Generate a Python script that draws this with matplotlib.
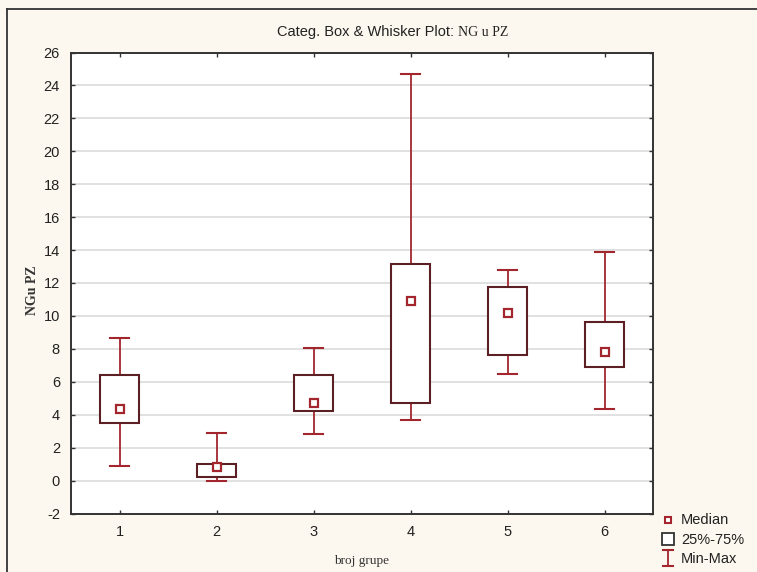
import matplotlib
matplotlib.use("Agg")
import matplotlib.pyplot as plt
from matplotlib.lines import Line2D
from matplotlib.patches import Rectangle

plt.rcParams["axes.unicode_minus"] = False

groups = [1, 2, 3, 4, 5, 6]
mins = [0.9, 0.0, 2.8, 3.65, 6.45, 4.35]
q1 = [3.47, 0.24, 4.24, 4.73, 7.63, 6.88]
medians = [4.32, 0.81, 4.73, 10.93, 10.16, 7.83]
q3 = [6.44, 0.98, 6.44, 13.15, 11.78, 9.61]
maxs = [8.64, 2.9, 8.07, 24.71, 12.79, 13.88]
yticks = list(range(-2, 27, 2))

BG = "#fdf8ef"
BOX_C = "#5c1f24"
WH_C = "#a3262e"

W, H = 757, 572
fig = plt.figure(figsize=(W / 100, H / 100), dpi=100, facecolor=BG)
ax = fig.add_axes([71 / W, 1 - 513.5 / H, (653 - 71) / W, (513.5 - 52.5) / H])
ax.set_facecolor("white")

bw = 0.405
cw = 0.196
for g, lo, a, m, b, hi in zip(groups, mins, q1, medians, q3, maxs):
    ax.plot([g, g], [b, hi], color=WH_C, lw=1.3, zorder=3)
    ax.plot([g, g], [lo, a], color=WH_C, lw=1.3, zorder=3)
    ax.plot([g - cw / 2, g + cw / 2], [hi, hi], color=WH_C, lw=1.5, zorder=3)
    ax.plot([g - cw / 2, g + cw / 2], [lo, lo], color=WH_C, lw=1.5, zorder=3)
    ax.add_patch(Rectangle((g - bw / 2, a), bw, b - a, facecolor="white",
                           edgecolor=BOX_C, lw=1.5, zorder=4))
    ax.plot([g], [m], marker="s", ms=5.5, mfc="white", mec=WH_C, mew=1.6,
            zorder=5, ls="none")

ax.set_xlim(0.5, 6.5)
ax.set_ylim(-2, 26)
ax.set_yticks(yticks)
ax.set_xticks(groups)
ax.grid(axis="y", color="#dcdcdc", lw=1.2, zorder=0)
ax.set_axisbelow(True)
for s in ax.spines.values():
    s.set_color("#333333")
    s.set_linewidth(1.4)
ax.tick_params(direction="in", length=3, width=1, color="#333333",
               top=True, right=True, labelsize=10.5, pad=8)
for lab in ax.get_xticklabels() + ax.get_yticklabels():
    lab.set_family(["Liberation Sans", "DejaVu Sans"])
    lab.set_color("#222222")

ax.set_ylabel("NGu PZ", family=["Liberation Serif", "DejaVu Serif"],
              fontsize=10, fontweight="bold", color="#333333")
ax.yaxis.set_label_coords(-0.055, 0.485)
ax.set_xlabel("broj grupe", family=["Liberation Serif", "DejaVu Serif"],
              fontsize=9.5, labelpad=12, color="#333333")

fig.text(458 / W, 1 - 32 / H, "Categ. Box & Whisker Plot: ", ha="right",
         va="center", fontsize=10.5, family=["Liberation Sans Narrow", "Liberation Sans", "DejaVu Sans"],
         color="#222222")
fig.text(458 / W, 1 - 32 / H, "NG u PZ", ha="left", va="center",
         fontsize=10, family=["Liberation Serif", "DejaVu Serif"], color="#222222")

# frame border
fig.add_artist(Line2D([7 / W, 7 / W], [0, 1 - 9 / H], transform=fig.transFigure,
                      color="#333333", lw=1.3))
fig.add_artist(Line2D([7 / W, 1], [1 - 9 / H, 1 - 9 / H], transform=fig.transFigure,
                      color="#333333", lw=1.3))

# legend
tf = fig.transFigure
fig.add_artist(Line2D([668 / W], [1 - 520 / H], transform=tf, marker="s", ms=5,
                      mfc="white", mec=WH_C, mew=1.5, ls="none"))
fig.add_artist(Rectangle((662 / W, 1 - 545 / H), 11.5 / W, 12 / H, transform=tf,
                         facecolor="white", edgecolor="#333333", lw=1.3))
fig.add_artist(Line2D([668 / W, 668 / W], [1 - 550 / H, 1 - 566 / H], transform=tf,
                      color=WH_C, lw=1.3))
fig.add_artist(Line2D([663 / W, 673 / W], [1 - 550 / H, 1 - 550 / H], transform=tf,
                      color=WH_C, lw=1.5))
fig.add_artist(Line2D([663 / W, 673 / W], [1 - 566 / H, 1 - 566 / H], transform=tf,
                      color=WH_C, lw=1.5))
for ty, t in [(520, "Median"), (540, "25%-75%"), (559, "Min-Max")]:
    fig.text(681 / W, 1 - ty / H, t, ha="left", va="center", fontsize=10.5,
             family=["Liberation Sans", "DejaVu Sans"], color="#222222")

fig.savefig("out.png", dpi=100, facecolor=BG)
